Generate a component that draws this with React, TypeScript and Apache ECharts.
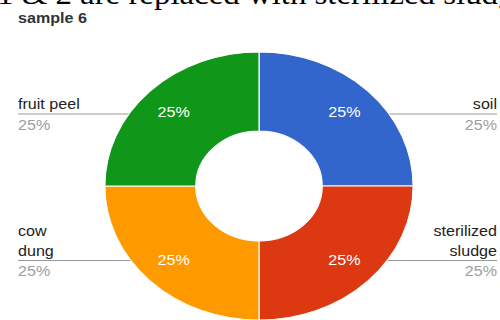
import React, { useEffect, useRef } from "react";
import * as echarts from "echarts";

// ---- data ----
const categories = ["soil", "sterilized sludge", "cow dung", "fruit peel"];
const values = [25, 25, 25, 25];
const labelNames = ["soil", "sterilized\nsludge", "cow\ndung", "fruit peel"];
const colors = ["#3366CC", "#DC3912", "#FF9900", "#109618"];
const chartTitle = "sample 6";
const headerText = "1 & 2 are replaced with sterilized sludge";

// ---- layout (chart coordinates, before horizontal stretch) ----
const SX = 1.15;
const W = 500 / SX;
const H = 320;
const CX = 259 / SX;
const CY = 186;
const R0 = 55;
const R1 = 134;
const lineInnerX = [388 / SX, 363 / SX, 167 / SX, 130 / SX];
const FONT = "'Liberation Sans', Arial, sans-serif";

export default function App() {
  const ref = useRef<HTMLDivElement>(null);
  useEffect(() => {
    document.body.style.margin = "0";
    if (!ref.current) return;
    const chart = echarts.init(ref.current, undefined, { renderer: "svg" });
    const data = categories.map((c, i) => ({ name: c, value: values[i] }));
    chart.setOption({
      animation: false,
      backgroundColor: "#ffffff",
      color: colors,
      graphic: [
        {
          type: "text",
          x: -3 / SX,
          y: -5.5,
          style: {
            text: headerText,
            fontFamily: "'Liberation Serif', 'Times New Roman', serif",
            fontSize: 28.6,
            fill: "#000",
            align: "left",
            verticalAlign: "middle",
          },
        },
        {
          type: "text",
          x: 18 / SX,
          y: 17.5,
          style: {
            text: chartTitle,
            fontFamily: FONT,
            fontWeight: "bold",
            fontSize: 14,
            fill: "#333",
            align: "left",
            verticalAlign: "middle",
          },
        },
      ],
      series: [
        {
          type: "pie",
          center: [CX, CY],
          radius: [R0, R1],
          startAngle: 90,
          clockwise: true,
          avoidLabelOverlap: false,
          silent: true,
          data,
          itemStyle: { borderColor: "#ffffff", borderWidth: 1 },
          label: {
            show: true,
            position: "outside",
            fontFamily: FONT,
            formatter: (p: any) => {
              const n = labelNames[p.dataIndex]
                .split("\n")
                .map((s) => `{n|${s}}`)
                .join("\n");
              return `${n}\n{p|${Math.round(p.percent)}%}`;
            },
            rich: {
              n: { fontSize: 14, lineHeight: 20, color: "#222", fontFamily: FONT },
              p: { fontSize: 14, lineHeight: 21, color: "#9e9e9e", fontFamily: FONT },
            },
          },
          labelLine: {
            show: true,
            length: 10,
            length2: 10,
            lineStyle: { color: "#999", width: 1 },
          },
          labelLayout: (params: any) => {
            const i = params.dataIndex;
            const right = i < 2;
            const top = i === 0 || i === 3;
            const ly = CY + (top ? -72 : 74.5);
            const ex = right ? 497 / SX : 18 / SX;
            const ix = lineInnerX[i];
            return {
              x: ex,
              y: ly + 21,
              align: right ? "right" : "left",
              verticalAlign: "bottom",
              labelLinePoints: [
                [ex, ly],
                [(ex + ix) / 2, ly],
                [ix, ly],
              ],
            };
          },
        },
        {
          type: "pie",
          center: [CX, CY],
          radius: [70, R1],
          startAngle: 90,
          clockwise: true,
          silent: true,
          data,
          itemStyle: { color: "rgba(0,0,0,0)", borderWidth: 0 },
          label: {
            show: true,
            position: "inside",
            color: "#ffffff",
            fontSize: 14,
            fontFamily: FONT,
            formatter: (p: any) => `${Math.round(p.percent)}%`,
          },
          labelLine: { show: false },
        },
      ],
    });
    return () => chart.dispose();
  }, []);
  return (
    <div style={{ width: 500, height: 320, overflow: "hidden", position: "relative", background: "#fff" }}>
      <div
        ref={ref}
        style={{ width: W, height: H, transform: `scaleX(${SX})`, transformOrigin: "0 0" }}
      />
    </div>
  );
}
